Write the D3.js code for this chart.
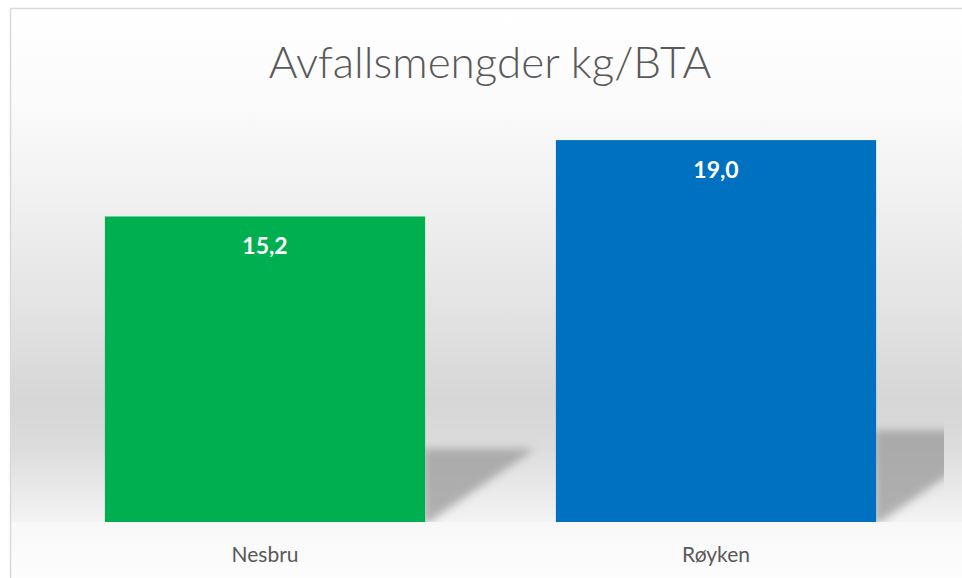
<!DOCTYPE html>
<html><head><meta charset="utf-8">
<script src="https://cdn.jsdelivr.net/npm/d3@7"></script>
<style>html,body{margin:0;padding:0;background:#fff;overflow:hidden}</style>
</head><body>
<svg id="chart" width="962" height="578"></svg>
<script>
const title = "Avfallsmengder kg/BTA";
const categories = ["Nesbru", "Røyken"];
const values = [15.2, 19.0];
const colors = ["#00b050", "#0070c0"];
const yDomain = [0, 20];

const W = 962, H = 578;
const svg = d3.select("#chart");
const defs = svg.append("defs");

// background gradient (chart area)
const g = defs.append("linearGradient").attr("id", "bg")
  .attr("gradientUnits", "userSpaceOnUse").attr("x1", 0).attr("y1", 8).attr("x2", 0).attr("y2", H);
[[0, "#ffffff"], [0.16, "#fbfbfb"], [0.34, "#f0f0f0"], [0.52, "#e4e4e4"], [0.69, "#d6d6d6"],
 [0.77, "#dcdcdc"], [0.86, "#ececec"], [0.9, "#f3f3f3"], [0.903, "#f8f8f8"], [1, "#fdfdfd"]]
  .forEach(([o, c]) => g.append("stop").attr("offset", o).attr("stop-color", c));

const blur = defs.append("filter").attr("id", "blur").attr("x", "-20%").attr("y", "-20%").attr("width", "140%").attr("height", "140%");
blur.append("feGaussianBlur").attr("stdDeviation", 4);

const margin = {left: 39.5, right: W - 941.5, top: 120, bottom: H - 522};
const x = d3.scaleBand().domain(categories).range([margin.left, W - margin.right])
  .paddingInner(0.29).paddingOuter(0.145);
const y = d3.scaleLinear().domain(yDomain).range([H - margin.bottom, margin.top]);

svg.append("rect").attr("x", 10.5).attr("y", 8.5).attr("width", W + 10).attr("height", H + 10)
  .attr("fill", "url(#bg)").attr("stroke", "#d9d9d9").attr("stroke-width", 1.5);

defs.append("clipPath").attr("id", "plotclip").append("rect")
  .attr("x", 12).attr("y", 60).attr("width", 944 - 12).attr("height", y(0) - 60);

const data = categories.map((c, i) => ({c, v: values[i], color: colors[i]}));

// perspective shadows
svg.append("g").attr("clip-path", "url(#plotclip)").selectAll("path").data(data).join("path")
  .attr("d", d => {
    const xr = x(d.c) + x.bandwidth();
    const b = y(0), h = y(0) - y(d.v);
    const sh = h * 0.24, sw = h * 0.36;
    return `M${xr - 2},${b + 4} L${xr - 2},${b - sh} L${xr + sw},${b - sh} Z`;
  })
  .attr("fill", "#9a9a9a").attr("opacity", 0.75).attr("filter", "url(#blur)");

svg.append("g").selectAll("rect").data(data).join("rect")
  .attr("x", d => x(d.c)).attr("width", x.bandwidth())
  .attr("y", d => y(d.v)).attr("height", d => y(0) - y(d.v))
  .attr("fill", d => d.color);

const fmt = v => d3.format(".1f")(v).replace(".", ",");
svg.append("g").selectAll("text").data(data).join("text")
  .attr("x", d => x(d.c) + x.bandwidth() / 2).attr("y", d => y(d.v) + 38)
  .attr("text-anchor", "middle").attr("fill", "#ffffff")
  .attr("font-family", "Lato, 'Open Sans', sans-serif").attr("font-weight", "bold").attr("font-size", 23)
  .text(d => fmt(d.v));

const xAxis = svg.append("g").attr("transform", `translate(0,${y(0)})`)
  .call(d3.axisBottom(x).tickSize(0).tickPadding(25));
xAxis.select(".domain").remove();
xAxis.selectAll("text").attr("fill", "#595959").attr("font-size", 21)
  .attr("font-family", "Lato, 'Open Sans', sans-serif").attr("dy", "0.71em");

svg.append("text").attr("x", 490).attr("y", 78).attr("text-anchor", "middle")
  .attr("fill", "#595959").attr("font-family", "Lato, 'Open Sans', sans-serif").attr("font-weight", 300)
  .attr("font-size", 44).text(title);
</script>
</body></html>
